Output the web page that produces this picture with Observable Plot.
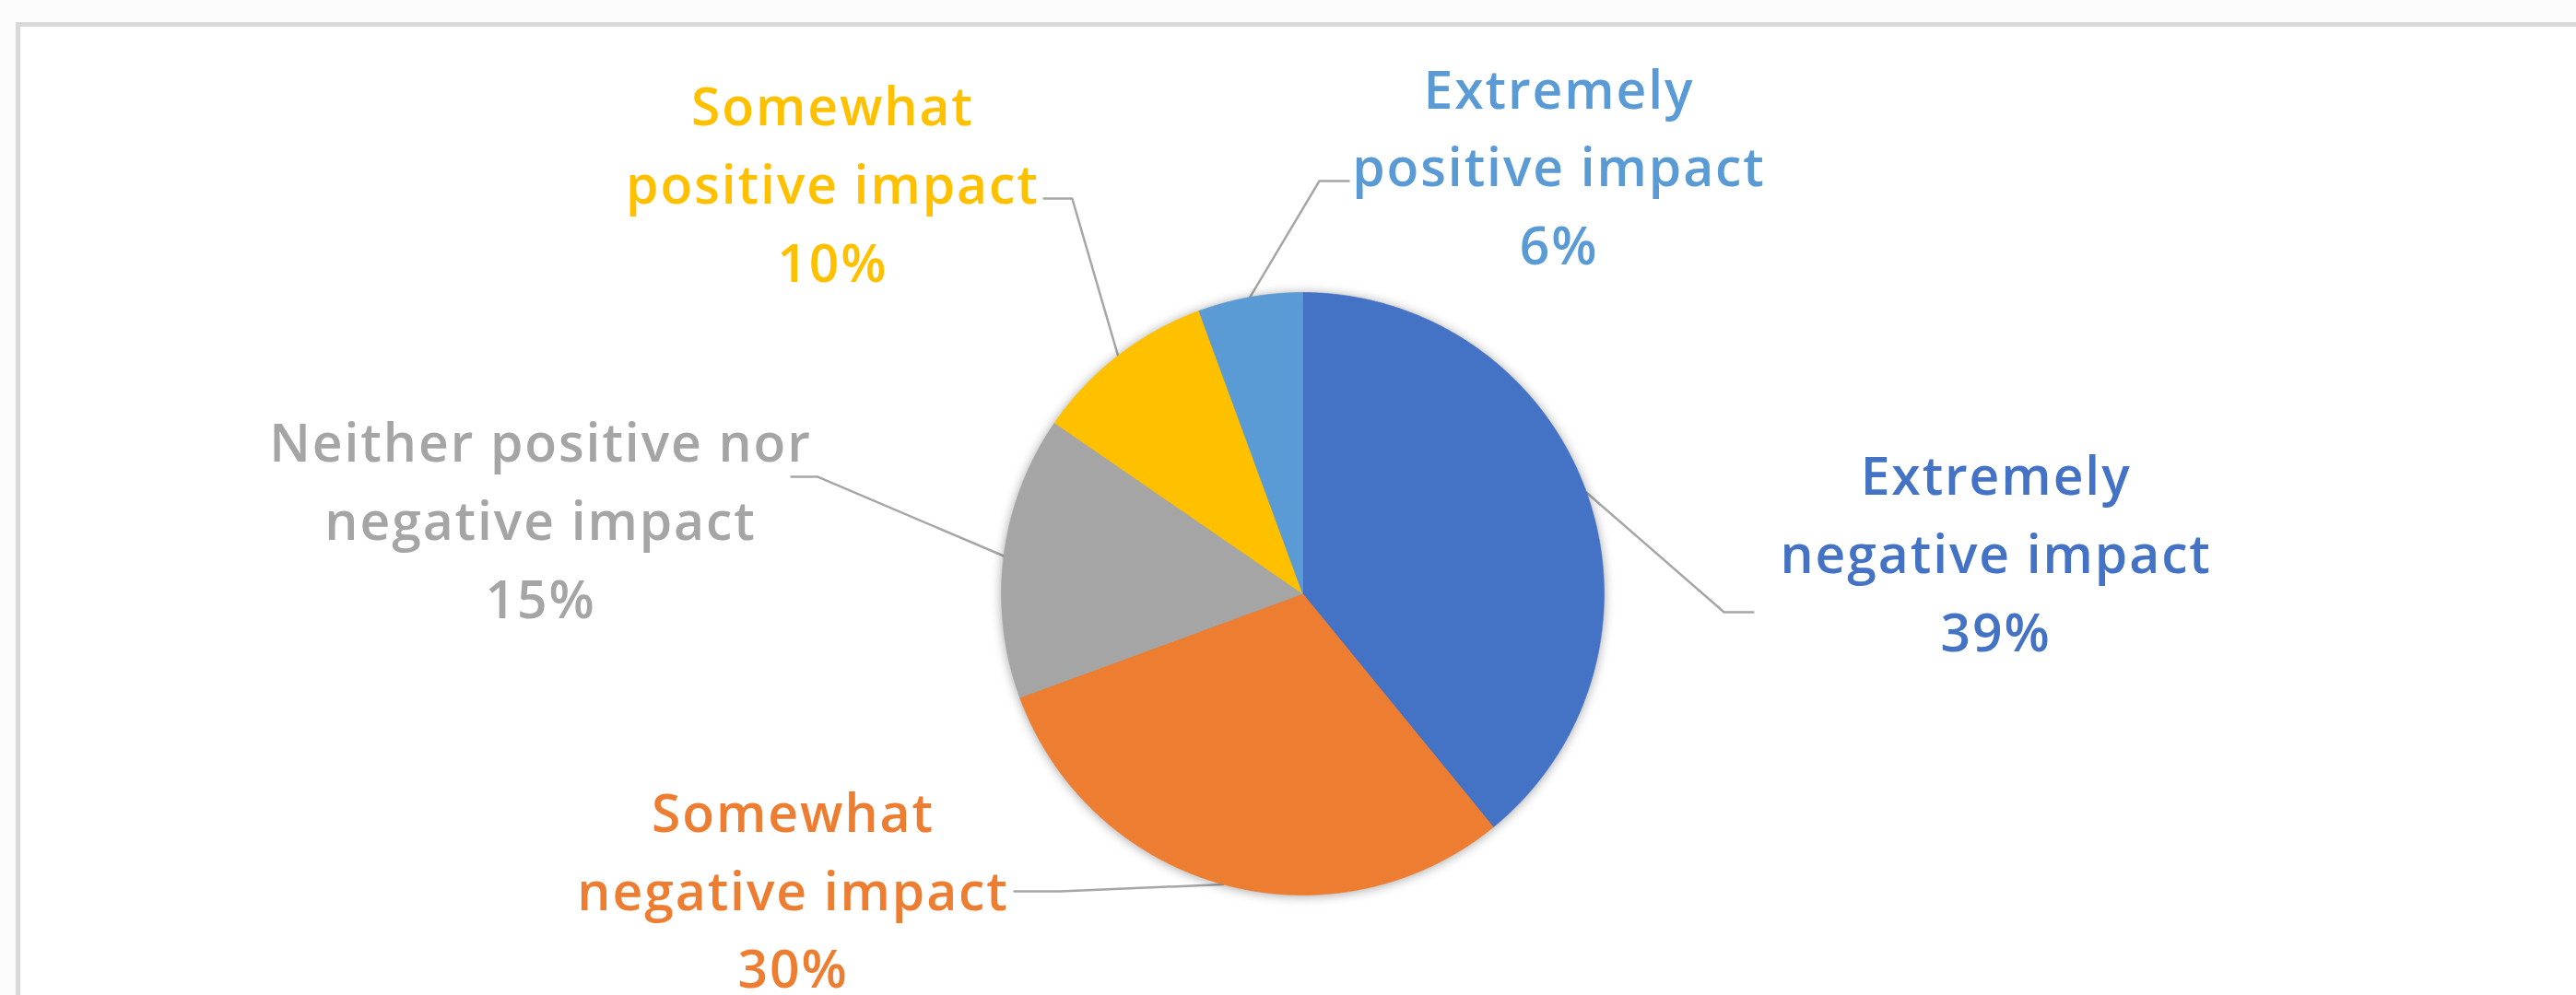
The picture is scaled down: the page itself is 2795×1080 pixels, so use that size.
<!DOCTYPE html>
<html>
<head>
<meta charset="utf-8">
<script src="https://cdn.jsdelivr.net/npm/d3@7"></script>
<script src="https://cdn.jsdelivr.net/npm/@observablehq/plot@0.6"></script>
<style>
  html, body { margin: 0; padding: 0; background: #fcfcfc; }
  #wrap { position: relative; width: 2795px; height: 1080px; overflow: hidden; background: #fcfcfc; }
  #frame { position: absolute; left: 17px; top: 24px; width: 3200px; height: 1400px;
           border-left: 5px solid #d9d9d9; border-top: 5px solid #d9d9d9; background: #ffffff; }
  #chart { position: absolute; left: 0; top: 0; }
  .pie-slices { filter: drop-shadow(0px 1px 6px rgba(0,0,0,0.35)); }
  .pie-labels text { letter-spacing: 1.9px; }
</style>
</head>
<body>
<div id="wrap"><div id="frame"></div><div id="chart"></div></div>
<script>
// ---- data ----
const categories = [
  "Extremely negative impact",
  "Somewhat negative impact",
  "Neither positive nor negative impact",
  "Somewhat positive impact",
  "Extremely positive impact"
];
const shares = [39.1, 30.3, 15.2, 9.8, 5.6];
const labelLines = [
  "Extremely\nnegative impact",
  "Somewhat\nnegative impact",
  "Neither positive nor\nnegative impact",
  "Somewhat\npositive impact",
  "Extremely\npositive impact"
];
const colors = ["#4472C4", "#ED7D31", "#A5A5A5", "#FFC000", "#5B9BD5"];

// ---- layout (pie units: 1 = radius, y up) ----
const W = 2795, H = 1080, CX = 1413, CY = 644, R = 327;
const labelLayout = [
  {lx: 2.300, ly: 0.151, bend: [1.398, -0.061], stub: [1.495, -0.061]},
  {lx: -1.691, ly: -0.966, bend: [-0.804, -0.988], stub: [-0.957, -0.988]},
  {lx: -2.529, ly: 0.261, bend: [-1.609, 0.388], stub: [-1.697, 0.388]},
  {lx: -1.560, ly: 1.377, bend: [-0.765, 1.312], stub: [-0.859, 1.312]},
  {lx: 0.850, ly: 1.435, bend: [0.055, 1.370], stub: [0.153, 1.370]}
];

// ---- geometry from data ----
const total = d3.sum(shares);
let acc = 0;
const slices = categories.map((c, i) => {
  const a0 = acc / total * 2 * Math.PI;
  acc += shares[i];
  const a1 = acc / total * 2 * Math.PI;
  return {category: c, share: shares[i], a0, a1, mid: (a0 + a1) / 2, i};
});

const polyPoints = [];
for (const s of slices) {
  polyPoints.push({category: s.category, x: 0, y: 0});
  const n = Math.max(2, Math.ceil((s.a1 - s.a0) / (Math.PI / 360)));
  for (let k = 0; k <= n; k++) {
    const t = s.a0 + (s.a1 - s.a0) * k / n;
    polyPoints.push({category: s.category, x: Math.sin(t), y: Math.cos(t)});
  }
  polyPoints.push({category: s.category, x: 0, y: 0});
}

const leaderPoints = [];
for (const s of slices) {
  const L = labelLayout[s.i];
  leaderPoints.push({category: s.category, x: Math.sin(s.mid), y: Math.cos(s.mid)});
  leaderPoints.push({category: s.category, x: L.bend[0], y: L.bend[1]});
  leaderPoints.push({category: s.category, x: L.stub[0], y: L.stub[1]});
}

const labels = slices.map(s => ({
  category: s.category,
  x: labelLayout[s.i].lx,
  y: labelLayout[s.i].ly,
  text: labelLines[s.i] + "\n" + Math.round(s.share) + "%"
}));

const chart = Plot.plot({
  width: W,
  height: H,
  marginLeft: 0, marginRight: 0, marginTop: 0, marginBottom: 0,
  style: {background: "transparent", overflow: "visible"},
  x: {domain: [-CX / R, (W - CX) / R], axis: null},
  y: {domain: [-(H - CY) / R, CY / R], axis: null},
  color: {domain: categories, range: colors},
  marks: [
    Plot.line(leaderPoints, {x: "x", y: "y", z: "category", stroke: "#A6A6A6", strokeWidth: 2.5, curve: "linear"}),
    Plot.line(polyPoints, {x: "x", y: "y", z: "category", fill: "category", stroke: "category", strokeWidth: 0.6, curve: "linear", className: "pie-slices"}),
    Plot.text(labels, {x: "x", y: "y", text: "text", fill: "category", fontSize: 57, fontWeight: 600,
      fontFamily: "Open Sans", lineHeight: 1.49, textAnchor: "middle", lineAnchor: "middle", className: "pie-labels"})
  ]
});
document.getElementById("chart").appendChild(chart);
</script>
</body>
</html>
